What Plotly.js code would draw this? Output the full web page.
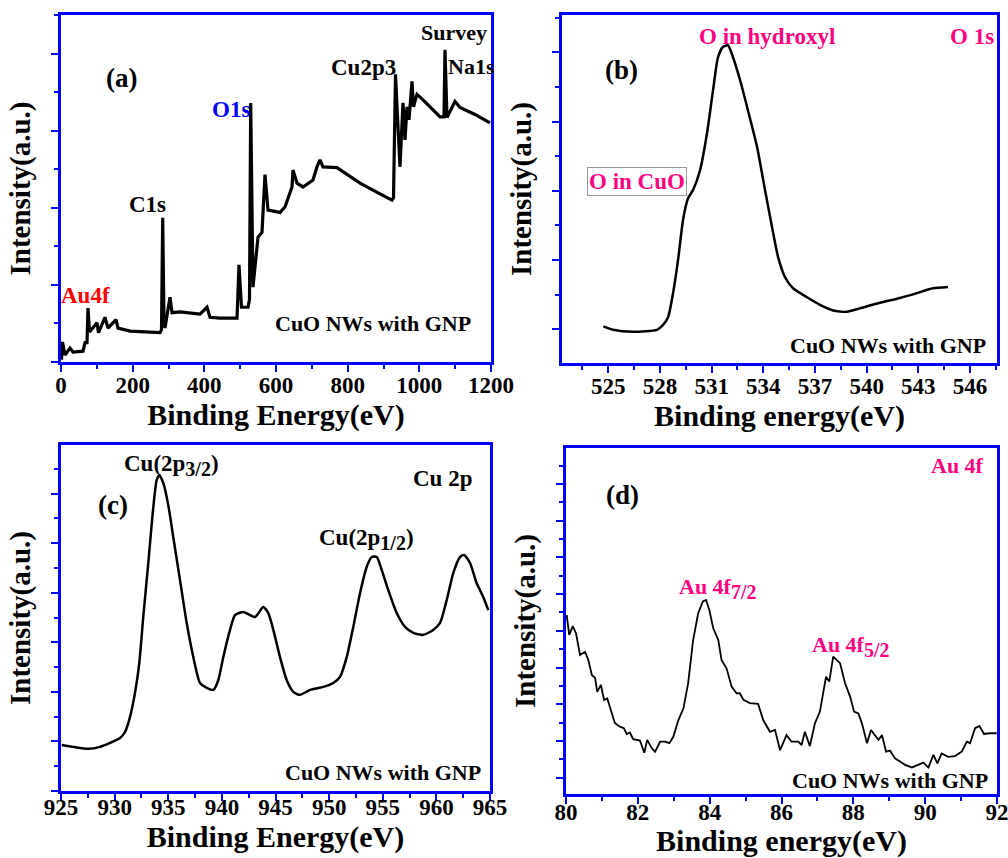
<!DOCTYPE html>
<html>
<head>
<meta charset="utf-8">
<script src="https://cdn.plot.ly/plotly-3.0.1.min.js"></script>
<style>html,body{margin:0;padding:0;background:#fff;}#chart{width:1008px;height:858px;}</style>
</head>
<body>
<div id="chart"></div>
<script>
// (a) Survey spectrum
const surveyEnergy = [1.4,4.2,11.2,25.1,33.5,61.4,67,72.6,75.3,79.5,100.5,104.6,122.8,131.2,153.5,159.1,192.6,234.4,276.3,280.5,283.8,287.4,290.2,304.2,309.8,332.1,360,387.9,407.4,415.8,443.7,491.2,496.7,503.7,521.9,526,529.4,535.8,549.8,560.9,569.3,577.7,611.2,625.1,644.7,647.4,658.6,675.3,703.3,714.4,722.8,731.2,770.2,834.4,890.2,923.7,927.9,933.5,940.5,946,954.4,960,965.6,971.2,979.5,983.7,993.5,1010.2,1057.7,1068.8,1071.6,1077.2,1099.5,1113.5,1155.3,1197.2];
const surveyIntensity = [0.03,0.26,0.09,0.18,0.13,0.14,0.25,0.25,0.70,0.39,0.51,0.38,0.58,0.44,0.55,0.44,0.40,0.39,0.38,0.42,1.87,0.52,0.44,0.84,0.64,0.65,0.64,0.62,0.71,0.58,0.57,0.57,1.26,0.71,0.71,0.81,3.36,0.97,1.62,1.68,2.43,1.97,1.94,2.01,2.27,2.49,2.32,2.27,2.36,2.53,2.62,2.53,2.52,2.32,2.18,2.10,2.13,3.73,3.05,2.53,3.36,2.88,3.31,3.14,3.64,3.31,3.47,3.40,3.18,3.18,4.05,3.17,3.38,3.30,3.21,3.10];
// (b) O 1s
const o1sEnergy = [524.71,525.27,526.43,527.83,528.18,528.47,528.76,529.05,529.34,529.63,529.92,530.33,530.73,531.08,531.37,531.66,531.95,532.24,532.65,533.11,533.64,534.10,534.51,534.86,535.26,535.73,536.54,537.29,538.05,538.86,539.61,540.77,541.93,542.92,543.85,544.72];
const o1sIntensity = [1.04,0.99,0.96,0.99,1.06,1.17,1.52,2.00,2.58,2.89,3.01,3.30,3.83,4.45,4.93,5.08,5.10,4.93,4.60,4.16,3.63,3.01,2.47,2.04,1.75,1.59,1.46,1.35,1.27,1.25,1.30,1.38,1.45,1.52,1.59,1.61];
// (c) Cu 2p
const cu2pEnergy = [925.07,926.15,927.55,928.64,929.57,930.50,930.97,931.43,931.90,932.30,932.67,933.14,933.55,933.92,934.17,934.54,935.00,935.47,936.10,936.72,937.34,937.96,938.59,939.20,939.67,940.13,940.76,941.22,942.00,943.09,943.86,944.33,944.80,945.42,946.04,946.66,947.28,948.22,949.46,950.39,951.01,951.64,952.25,952.88,953.50,953.97,954.44,954.90,955.52,956.30,957.08,957.85,958.78,959.71,960.34,960.96,961.58,962.20,962.58,963.14,963.76,964.38,964.84];
const cu2pIntensity = [0.93,0.89,0.85,0.89,0.97,1.07,1.19,1.49,1.98,2.58,3.51,4.60,5.60,6.27,6.37,6.21,5.77,5.12,4.25,3.39,2.70,2.18,2.08,2.04,2.24,2.70,3.25,3.55,3.61,3.51,3.71,3.59,3.25,2.70,2.24,2.00,1.94,2.04,2.10,2.18,2.30,2.70,3.31,3.99,4.52,4.72,4.72,4.46,4.05,3.59,3.31,3.19,3.15,3.25,3.39,3.85,4.40,4.72,4.76,4.60,4.19,3.91,3.65];
// (d) Au 4f
const au4fEnergy = [80.02,80.09,80.19,80.28,80.39,80.53,80.62,80.72,80.81,80.87,80.97,81.06,81.15,81.27,81.36,81.50,81.61,81.69,81.78,81.87,82.06,82.18,82.26,82.39,82.48,82.62,82.76,82.88,82.99,83.13,83.27,83.40,83.54,83.68,83.81,83.90,83.99,84.10,84.24,84.33,84.47,84.61,84.75,84.84,84.94,85.12,85.35,85.49,85.68,85.82,85.96,86.14,86.28,86.47,86.56,86.65,86.79,86.93,87.07,87.24,87.33,87.44,87.54,87.63,87.77,87.91,88.02,88.14,88.24,88.38,88.49,88.61,88.70,88.80,88.91,89.02,89.16,89.30,89.44,89.63,89.81,89.95,90.09,90.23,90.34,90.46,90.64,90.83,91.02,91.16,91.25,91.39,91.51,91.64,91.80,91.99];
const au4fIntensity = [5.43,4.89,5.13,4.93,4.34,4.43,4.21,3.80,3.72,3.34,3.53,3.12,3.16,2.76,2.49,2.39,2.35,2.19,2.23,2.05,2.01,1.68,2.03,1.80,1.71,1.98,1.98,1.94,2.12,2.57,2.89,3.57,4.75,5.48,5.80,5.84,5.57,5.07,4.75,4.21,3.98,3.48,3.30,3.30,3.12,3.03,3.01,2.57,2.25,2.30,1.75,2.16,1.98,1.98,1.89,2.25,1.86,2.48,2.80,3.75,3.62,4.30,4.21,4.12,3.57,3.21,2.80,2.75,2.48,1.94,2.30,2.16,2.03,2.16,1.71,1.74,1.53,1.44,1.35,1.28,1.35,1.41,1.28,1.62,1.39,1.66,1.57,1.59,1.71,1.98,1.94,2.35,2.41,2.19,2.21,2.21];

const xTitles = ['Binding Energy(eV)','Binding energy(eV)','Binding Energy(eV)','Binding energy(eV)'];
const yTitle = 'Intensity(a.u.)';

const W = 1008, H = 858;
const BLUE = '#0000ff', PINK = '#ff0080', RED = '#ff0000';
const FONT = 'Liberation Serif, Times New Roman, serif';

function px(x){ return x / W; }
function py(y){ return 1 - y / H; }

function xaxis(dom, range, dtick, tick0, minor, title, standoff, labelShift){
  return {
    domain: [px(dom[0]), px(dom[1])], range: range,
    showline: true, linecolor: BLUE, linewidth: 3, mirror: true,
    showgrid: false, zeroline: false,
    ticks: 'outside', ticklen: 7, tickwidth: 2, tickcolor: BLUE,
    tick0: tick0, dtick: dtick,
    minor: {ticks: 'outside', ticklen: 4, tickwidth: 2, tickcolor: BLUE, dtick: minor, showgrid: false},
    tickfont: {family: FONT, size: 23, color: '#000', weight: 'bold'},
    ticklabelstandoff: labelShift, ticklabeloverflow: 'allow',
    title: {text: title, font: {family: FONT, size: 30, color: '#000', weight: 'bold'}, standoff: standoff},
    automargin: false, fixedrange: true
  };
}
function yaxis(dom, range, standoff){
  return {
    domain: [py(dom[1]), py(dom[0])], range: range,
    showline: true, linecolor: BLUE, linewidth: 3, mirror: true,
    showgrid: false, zeroline: false,
    ticks: 'outside', ticklen: 7, tickwidth: 2, tickcolor: BLUE,
    tick0: 0, dtick: 1,
    minor: {ticks: 'outside', ticklen: 4, tickwidth: 2, tickcolor: BLUE, dtick: 0.5, showgrid: false},
    showticklabels: false,
    title: {text: yTitle, font: {family: FONT, size: 29, color: '#000', weight: 'bold'}, standoff: standoff},
    automargin: false, fixedrange: true
  };
}

const traces = [
  {x: surveyEnergy, y: surveyIntensity, xaxis: 'x', yaxis: 'y', mode: 'lines', line: {color: '#000', width: 3.2}, hoverinfo: 'skip'},
  {x: o1sEnergy, y: o1sIntensity, xaxis: 'x2', yaxis: 'y2', mode: 'lines', line: {color: '#000', width: 2.5, shape: 'spline', smoothing: 0.6}, hoverinfo: 'skip'},
  {x: cu2pEnergy, y: cu2pIntensity, xaxis: 'x3', yaxis: 'y3', mode: 'lines', line: {color: '#000', width: 2.5, shape: 'spline', smoothing: 0.6}, hoverinfo: 'skip'},
  {x: au4fEnergy, y: au4fIntensity, xaxis: 'x4', yaxis: 'y4', mode: 'lines', line: {color: '#000', width: 1.8}, hoverinfo: 'skip'}
];

function ann(x, y, text, color, size, extra){
  return Object.assign({xref: 'paper', yref: 'paper', x: px(x), y: py(y), text: text, showarrow: false,
    xanchor: 'center', yanchor: 'middle',
    font: {family: FONT, size: size || 23, color: color || '#000', weight: 'bold'}}, extra || {});
}
function sub(s, size){ return '<sub><span style="font-size:' + size + 'px">' + s + '</span></sub>'; }

const annotations = [
  ann(121, 78, '(a)', '#000', 27),
  ann(147, 205, 'C1s', '#000', 23),
  ann(231, 110, 'O1s', BLUE, 23),
  ann(85, 295, 'Au4f', RED, 23),
  ann(363, 68, 'Cu2p3', '#000', 23),
  ann(454, 33, 'Survey', '#000', 22),
  ann(471, 67, 'Na1s', '#000', 22),
  ann(373, 323, 'CuO NWs with GNP', '#000', 22),

  ann(621, 70, '(b)', '#000', 27),
  ann(767, 36, 'O in hydroxyl', PINK, 23),
  ann(972, 36, 'O 1s', PINK, 23),
  ann(637, 181, 'O in CuO', PINK, 23, {bordercolor: '#999', borderwidth: 1, borderpad: 1}),
  ann(888, 345, 'CuO NWs with GNP', '#000', 22),

  ann(113, 505, '(c)', '#000', 27),
  ann(171, 465, 'Cu(2p' + sub('3/2', 20) + ')', '#000', 23),
  ann(442, 478, 'Cu 2p', '#000', 23),
  ann(366, 539, 'Cu(2p' + sub('1/2', 20) + ')', '#000', 23),
  ann(383, 772, 'CuO NWs with GNP', '#000', 22),

  ann(622, 495, '(d)', '#000', 27),
  ann(957, 465, 'Au 4f', PINK, 22),
  ann(718, 588, 'Au 4f' + sub('7/2', 20), PINK, 22),
  ann(851, 646, 'Au 4f' + sub('5/2', 20), PINK, 22),
  ann(890, 780, 'CuO NWs with GNP', '#000', 22)
];

const layout = {
  width: W, height: H,
  margin: {l: 0, r: 0, t: 0, b: 0},
  paper_bgcolor: '#fff', plot_bgcolor: '#fff',
  showlegend: false,
  xaxis: Object.assign(xaxis([61, 491], [0, 1200], 200, 0, 100, xTitles[0], 0, -7), {anchor: 'y'}),
  yaxis: Object.assign(yaxis([15, 362], [0, 4.5], 12), {anchor: 'x'}),
  xaxis2: Object.assign(xaxis([562, 997], [522.31, 547.57], 3, 525, 1.5, xTitles[1], 0, -7), {anchor: 'y2'}),
  yaxis2: Object.assign(yaxis([15, 363], [0.51, 5.54], 12), {anchor: 'x2'}),
  xaxis3: Object.assign(xaxis([61, 490], [925, 965], 5, 925, 2.5, xTitles[2], 0, -14), {anchor: 'y3'}),
  yaxis3: Object.assign(yaxis([445, 791], [0, 6.98], 12), {anchor: 'x3'}),
  xaxis4: Object.assign(xaxis([566, 997], [80, 92], 2, 80, 1, xTitles[3], 0, -12), {anchor: 'y4'}),
  yaxis4: Object.assign(yaxis([448, 794], [0.556, 9.98], 12), {anchor: 'x4'}),
  annotations: annotations
};

Plotly.newPlot('chart', traces, layout, {staticPlot: true, displayModeBar: false});
</script>
</body>
</html>
